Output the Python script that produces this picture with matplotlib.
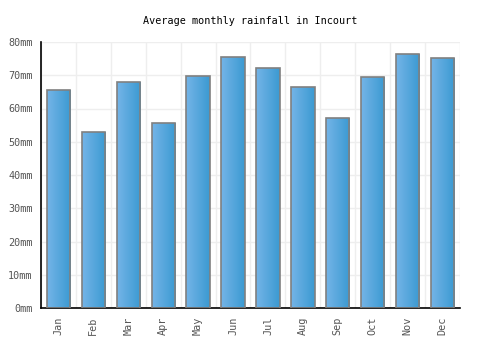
import matplotlib
matplotlib.use("Agg")
import matplotlib.pyplot as plt
import numpy as np

months = ["Jan", "Feb", "Mar", "Apr", "May", "Jun", "Jul", "Aug", "Sep", "Oct", "Nov", "Dec"]
rainfall = [65.5, 52.8, 67.9, 55.7, 69.9, 75.6, 72.1, 66.4, 57.0, 69.4, 76.3, 75.1]
yticks = [0, 10, 20, 30, 40, 50, 60, 70, 80]
title = "Average monthly rainfall in Incourt"

fig = plt.figure(figsize=(5, 3.5), dpi=100)
ax = fig.add_axes([41/500, 42/350, 419/500, 266/350])

x = np.arange(len(months))
bars = ax.bar(x, rainfall, width=0.67, facecolor="none", edgecolor="#808080", linewidth=1.2, zorder=3)

cmap = matplotlib.colors.LinearSegmentedColormap.from_list("g", ["#74b4e8", "#3b9ad1"])
grad = np.linspace(0, 1, 64).reshape(1, -1)
for b in bars:
    x0, y0 = b.get_x(), b.get_y()
    w, h = b.get_width(), b.get_height()
    im = ax.imshow(grad, cmap=cmap, extent=[x0, x0 + w, y0, y0 + h], aspect="auto", zorder=2, interpolation="bilinear")
    im.set_clip_path(b)

ax.set_xlim(-0.5, len(months) - 0.5)
ax.set_ylim(0, 80)
ax.set_xticks(x)
ax.set_xticklabels(months, rotation=90, fontsize=7.3, color="#555555", family="DejaVu Sans Mono")
ax.set_yticks(yticks)
ax.set_yticklabels([f"{v}mm" for v in yticks], fontsize=7.3, color="#555555", family="DejaVu Sans Mono")
ax.set_xticks(np.arange(len(months) + 1) - 0.5, minor=True)
ax.tick_params(axis="both", which="both", length=0)
ax.tick_params(axis="y", pad=6)
ax.tick_params(axis="x", pad=6)
ax.grid(True, axis="y", color="#eeeeee", linewidth=1, zorder=0)
ax.grid(True, axis="x", which="minor", color="#eeeeee", linewidth=1, zorder=0)
ax.set_axisbelow(True)
for s in ["top", "right"]:
    ax.spines[s].set_visible(False)
for s in ["left", "bottom"]:
    ax.spines[s].set_color("black")
    ax.spines[s].set_linewidth(1.2)

fig.text(0.5, 1 - 21/350, title, ha="center", va="center", fontsize=7.3, family="DejaVu Sans Mono", color="black")

fig.savefig("out.png", dpi=100)
